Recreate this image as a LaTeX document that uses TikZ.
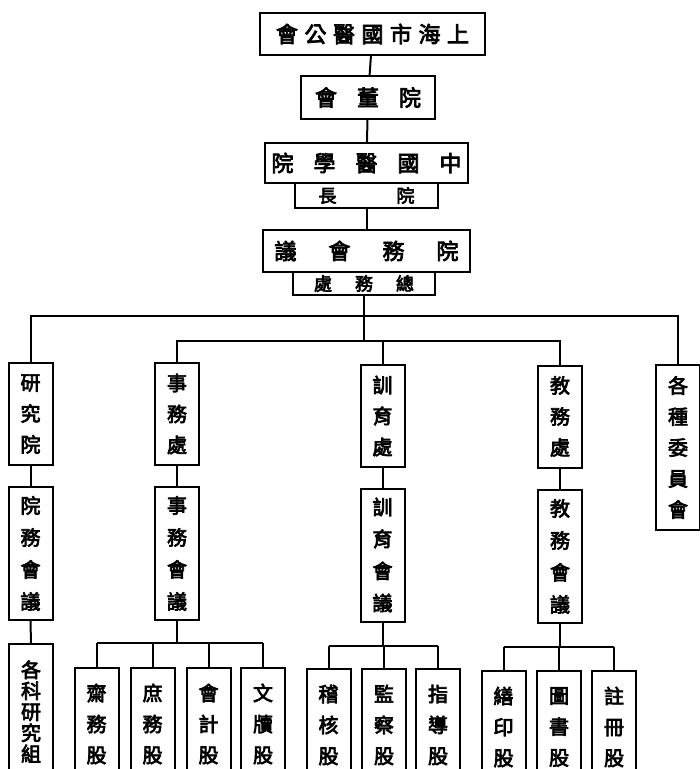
\documentclass[tikz,border=0pt]{standalone}
\usepackage{fontspec}
\newfontfamily\zh[AutoFakeBold=3.5]{Noto Sans CJK TC}
\newcommand{\zgap}[1]{\hspace{#1pt}}

\tikzset{
  link/.style={line width=2pt},
  hbox/.style={draw, line width=2pt, inner sep=0pt, font=\zh\bfseries\fontsize{22}{22}\selectfont},
  subbox/.style={hbox, font=\zh\bfseries\fontsize{18}{18}\selectfont},
  vbox/.style={draw, line width=2pt, inner sep=0pt, align=center, minimum width=44pt,
    minimum height=102pt, font=\zh\bfseries\fontsize{20}{31}\selectfont},
  meetbox/.style={vbox, minimum height=133pt, font=\zh\bfseries\fontsize{20}{32}\selectfont},
  gubox/.style={vbox, anchor=north, minimum height=112pt}
}

\begin{document}
\begin{tikzpicture}[x=1pt, y=-1pt]
\useasboundingbox (0,0) rectangle (700,769);
\clip (0,0) rectangle (700,769);

% Top of the chart
\node[hbox, minimum width=225pt, minimum height=42pt] (gonghui) at (372.5,34)
  {會\zgap{6.5}公\zgap{6.5}醫\zgap{6.5}國\zgap{6.5}市\zgap{6.5}海\zgap{6.5}上};
\node[hbox, minimum width=134pt, minimum height=43pt] (dongshi) at (368,97.5)
  {會\zgap{20}董\zgap{20}院};
\node[hbox, minimum width=203pt, minimum height=40pt] (xueyuan) at (366.5,163)
  {院\zgap{20}學\zgap{20}醫\zgap{20}國\zgap{20}中};
\node[subbox, minimum width=143pt, minimum height=25pt] (yuanzhang) at (366.5,195.5)
  {長\zgap{60}院};
\node[hbox, minimum width=207pt, minimum height=42pt] (yuanwu) at (366.5,251)
  {議\zgap{32}會\zgap{32}務\zgap{32}院};
\node[subbox, minimum width=142pt, minimum height=23pt] (zongwu) at (364,283.5)
  {處\zgap{23}務\zgap{23}總};

\draw[link] (gonghui) -- (dongshi);
\draw[link] (dongshi) -- (xueyuan);
\draw[link] (yuanzhang) -- (yuanwu);

% Departments
\node[vbox] (yanjiu) at (30.5,414) {研\\究\\院};
\node[vbox] (shiwu) at (177,414) {事\\務\\處};
\node[vbox] (xunyu) at (382.5,416) {訓\\育\\處};
\node[vbox] (jiaowu) at (560,416.5) {教\\務\\處};
\node[vbox, minimum height=165pt] (weiyuan) at (678,447.5) {各\\種\\委\\員\\會};

\coordinate (upbar) at (366,316);
\coordinate (lowbar) at (366,341);
\draw[link] (yanjiu.north) |- (upbar) -| (weiyuan.north);
\draw[link] (shiwu.north) |- (lowbar) -| (jiaowu.north);
\draw[link] (zongwu.south) -- (zongwu.south |- lowbar);
\draw[link] (xunyu.north) -- (xunyu.north |- lowbar);

% Meetings
\node[meetbox] (yanjiuhy) at (30.5,553.5) {院\\務\\會\\議};
\node[meetbox] (shiwuhy) at (177,553.5) {事\\務\\會\\議};
\node[meetbox] (xunyuhy) at (382.5,555) {訓\\育\\會\\議};
\node[meetbox] (jiaowuhy) at (560,556.5) {教\\務\\會\\議};

\foreach \d in {yanjiu,shiwu,xunyu,jiaowu}
  \draw[link] (\d) -- (\d hy);

% Sections
\node[gubox, font=\zh\bfseries\fontsize{20}{21}\selectfont, minimum height=135pt] (kezu) at (31,643)
  {各\\科\\研\\究\\組};
\draw[link] (yanjiuhy) -- (kezu);

\node[gubox] (zhaiwu) at (96.5,667) {齋\\務\\股};
\node[gubox] (shuwu) at (152.5,667) {庶\\務\\股};
\node[gubox] (kuaiji) at (208.5,667) {會\\計\\股};
\node[gubox] (wendu) at (263,667) {文\\牘\\股};
\coordinate (sbar) at (180,643);
\draw[link] (zhaiwu.north |- sbar) -- (wendu.north |- sbar);
\draw[link] (shiwuhy) -- (shiwuhy |- sbar);
\foreach \g in {zhaiwu,shuwu,kuaiji,wendu}
  \draw[link] (\g.north) -- (\g.north |- sbar);

\node[gubox] (jihe) at (328.5,668) {稽\\核\\股};
\node[gubox] (jiancha) at (384,668) {監\\察\\股};
\node[gubox] (zhidao) at (438,668) {指\\導\\股};
\coordinate (xbar) at (383,646);
\draw[link] (jihe.north |- xbar) -- (zhidao.north |- xbar);
\draw[link] (xunyuhy) -- (xunyuhy |- xbar);
\foreach \g in {jihe,jiancha,zhidao}
  \draw[link] (\g.north) -- (\g.north |- xbar);

\node[gubox] (shanyin) at (503.5,670) {繕\\印\\股};
\node[gubox] (tushu) at (559,670) {圖\\書\\股};
\node[gubox] (zhuce) at (614,670) {註\\冊\\股};
\coordinate (jbar) at (559,647);
\draw[link] (shanyin.north |- jbar) -- (zhuce.north |- jbar);
\draw[link] (jiaowuhy) -- (jiaowuhy |- jbar);
\foreach \g in {shanyin,tushu,zhuce}
  \draw[link] (\g.north) -- (\g.north |- jbar);

\end{tikzpicture}
\end{document}
